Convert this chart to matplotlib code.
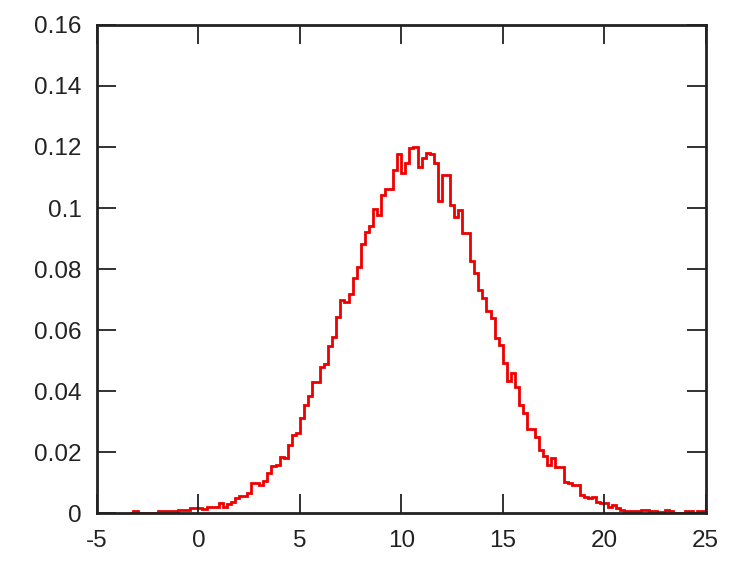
import numpy as np
import matplotlib
matplotlib.use("Agg")
import matplotlib.pyplot as plt

plt.rcParams['font.family'] = ['Liberation Sans', 'DejaVu Sans']

# Histogram (bin width 0.2, first bin starts at -3.4)
bin_start = -3.4
bin_width = 0.2
density = [
    0.0, 0.0006, 0.0, 0.0, 0.0, 0.0, 0.0, 0.0005, 0.0005, 0.0006,
    0.0006, 0.0006, 0.0010, 0.0011, 0.0011, 0.0015, 0.0015, 0.0018, 0.0013, 0.0019,
    0.0019, 0.0019, 0.0034, 0.0019, 0.0028, 0.0037, 0.0048, 0.0057, 0.0057, 0.0067,
    0.0097, 0.0099, 0.0093, 0.0104, 0.0132, 0.0153, 0.0157, 0.0185, 0.0179, 0.0223,
    0.0256, 0.0263, 0.0313, 0.0354, 0.0384, 0.0431, 0.0431, 0.0480, 0.0489, 0.0548,
    0.0577, 0.0644, 0.0700, 0.0691, 0.0718, 0.0771, 0.0805, 0.0883, 0.0922, 0.0941,
    0.0998, 0.0977, 0.1043, 0.1063, 0.1063, 0.1126, 0.1177, 0.1115, 0.1147, 0.1196,
    0.1201, 0.1133, 0.1163, 0.1179, 0.1177, 0.1147, 0.1023, 0.1108, 0.1108, 0.1010,
    0.0970, 0.0993, 0.0917, 0.0917, 0.0827, 0.0788, 0.0731, 0.0706, 0.0662, 0.0640,
    0.0575, 0.0551, 0.0492, 0.0434, 0.0458, 0.0414, 0.0354, 0.0327, 0.0274, 0.0274,
    0.0250, 0.0207, 0.0186, 0.0157, 0.0179, 0.0152, 0.0152, 0.0103, 0.0097, 0.0092,
    0.0092, 0.0060, 0.0054, 0.0048, 0.0051, 0.0037, 0.0034, 0.0032, 0.0021, 0.0026,
    0.0015, 0.0010, 0.0008, 0.0008, 0.0008, 0.0008, 0.0011, 0.0011, 0.0006, 0.0006,
    0.0003, 0.0003, 0.0009, 0.0006, 0.0, 0.0, 0.0, 0.0006, 0.0006, 0.0,
    0.0007, 0.0007,
]

x_ticks = [-5, 0, 5, 10, 15, 20, 25]
x_tick_labels = ['-5', '0', '5', '10', '15', '20', '25']
y_ticks = [0, 0.02, 0.04, 0.06, 0.08, 0.10, 0.12, 0.14, 0.16]
y_tick_labels = ['0', '0.02', '0.04', '0.06', '0.08', '0.1', '0.12', '0.14', '0.16']

edges = bin_start + bin_width * np.arange(len(density) + 1)

fig = plt.figure(figsize=(7.5, 5.63), dpi=100)
ax = fig.add_axes([0.1293, 0.0888, 0.8115, 0.8668])

ax.stairs(density, edges, color='#ee0000', linewidth=2.0, baseline=None)

ax.set_xlim(-5, 25)
ax.set_ylim(0, 0.16)
ax.set_xticks(x_ticks)
ax.set_xticklabels(x_tick_labels)
ax.set_yticks(y_ticks)
ax.set_yticklabels(y_tick_labels)

for s in ax.spines.values():
    s.set_linewidth(2.0)
    s.set_color('#222222')

ax.tick_params(axis='both', which='major', direction='in', length=13.5, width=1.3,
               top=True, right=True, labelsize=17.5, colors='#222222')
ax.tick_params(axis='x', pad=12)
ax.tick_params(axis='y', pad=11)

fig.savefig('out.png', dpi=100)
